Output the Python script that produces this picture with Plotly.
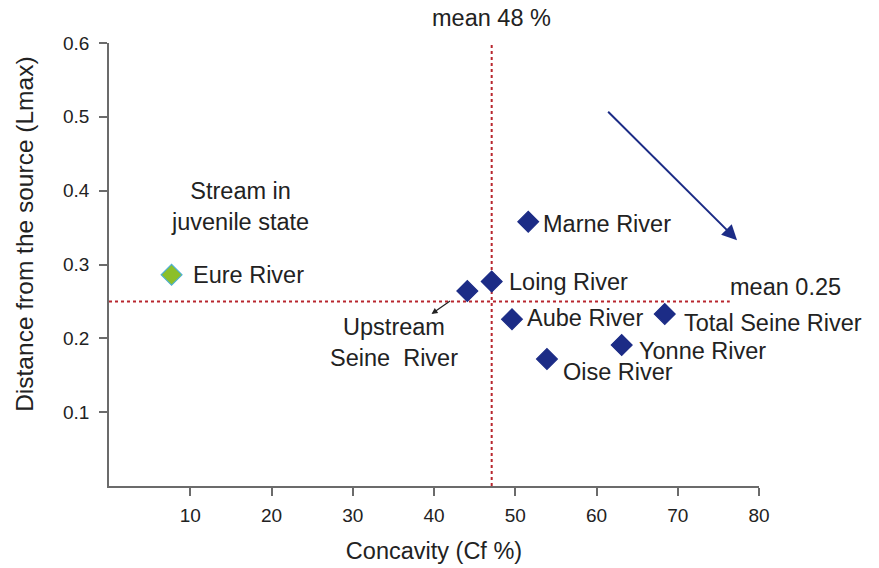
import plotly.graph_objects as go

# Dados (Cf %, Lmax)
rivers = ['Eure River', 'Upstream Seine River', 'Loing River', 'Marne River',
          'Aube River', 'Total Seine River', 'Yonne River', 'Oise River']
concavity = [7.7, 44.1, 47.1, 51.6, 49.6, 68.4, 63.1, 53.9]
lmax = [0.286, 0.264, 0.277, 0.358, 0.226, 0.233, 0.191, 0.172]
mean_cf = 47.1
mean_lmax = 0.25
x_ticks = [10, 20, 30, 40, 50, 60, 70, 80]
y_ticks = [0.1, 0.2, 0.3, 0.4, 0.5, 0.6]

FONT = 'Liberation Sans, Arial, sans-serif'
NAVY = '#1c2c86'
RED = '#b8262e'
TXT = '#222222'
FS = 23.5

fig = go.Figure()

# Linhas de média
fig.add_trace(go.Scatter(x=[mean_cf, mean_cf], y=[0, 0.6], mode='lines',
                         line=dict(color=RED, width=2, dash='dot'),
                         hoverinfo='skip', showlegend=False))
fig.add_trace(go.Scatter(x=[0, 76.4], y=[mean_lmax, mean_lmax], mode='lines',
                         line=dict(color=RED, width=2, dash='dot'),
                         hoverinfo='skip', showlegend=False))

# Pontos
colors = [NAVY] * len(rivers)
colors[0] = '#8cbf2a'
outline = [NAVY] * len(rivers)
outline[0] = '#4fb0d0'
fig.add_trace(go.Scatter(x=concavity, y=lmax, mode='markers',
                         marker=dict(symbol='diamond', size=16, color=colors,
                                     line=dict(color=outline, width=1.2)),
                         text=rivers, showlegend=False))

# Rótulos dos pontos (deslocamento em pixels)
offsets = {
    'Eure River': (19, 0),
    'Loing River': (15, -1),
    'Marne River': (13, -2),
    'Aube River': (13, 1),
    'Total Seine River': (17, -9),
    'Yonne River': (15, -6),
    'Oise River': (14, -13),
}
for name, x, y in zip(rivers, concavity, lmax):
    if name not in offsets:
        continue
    dx, dy = offsets[name]
    fig.add_annotation(x=x, y=y, text=name, showarrow=False, xanchor='left',
                       yanchor='middle', xshift=dx, yshift=dy,
                       font=dict(size=FS, color=TXT, family=FONT))

# Upstream Seine River com seta
fig.add_annotation(x=35.1, y=0.195, text='Upstream<br>Seine  River', showarrow=False,
                   font=dict(size=FS, color=TXT, family=FONT))
fig.add_annotation(x=39.7, y=0.233, ax=20, ay=-14, text='', showarrow=True,
                   arrowhead=2, arrowsize=1, arrowwidth=1.2, arrowcolor=TXT)

# Textos
fig.add_annotation(x=16.1, y=0.378, text='Stream in<br>juvenile state', showarrow=False,
                   font=dict(size=FS, color=TXT, family=FONT))
fig.add_annotation(x=80.8, y=0.477, text='Streams close to<br>their equilibrium state',
                   showarrow=False, font=dict(size=FS, color=TXT, family=FONT))
fig.add_annotation(x=76.2, y=0.27, text='mean 0.25', showarrow=False, xanchor='left',
                   font=dict(size=FS, color=TXT, family=FONT))
fig.add_annotation(x=mean_cf, y=1, yref='paper', yshift=25, text='mean 48 %',
                   showarrow=False, yanchor='middle',
                   font=dict(size=FS, color=TXT, family=FONT))

# Título do eixo y
fig.add_annotation(x=0, xref='paper', y=0.567, yref='paper', xshift=-84,
                   text='Distance from the source (Lmax)', textangle=-90,
                   showarrow=False, xanchor='center', yanchor='middle',
                   font=dict(size=24.5, color=TXT, family=FONT))

# Seta azul
fig.add_annotation(x=77.3, y=0.333, ax=61.25, ay=0.509, axref='x', ayref='y',
                   text='', showarrow=True, arrowhead=2, arrowsize=1.5,
                   arrowwidth=2, arrowcolor=NAVY)

axis_style = dict(showgrid=False, zeroline=False, showline=True, linecolor='#6b6b6b',
                  linewidth=1.5, ticks='outside', ticklen=8, tickwidth=1.5,
                  tickcolor='#6b6b6b', tickfont=dict(size=19, color=TXT, family=FONT))

fig.update_xaxes(range=[0, 80], tickvals=x_ticks, **axis_style, ticklabelstandoff=3,
                 title=dict(text='Concavity (Cf %)', standoff=18,
                            font=dict(size=FS, color=TXT, family=FONT)))
fig.update_yaxes(range=[0, 0.6], tickvals=y_ticks, ticktext=[str(v) for v in y_ticks],
                 **axis_style, ticklabelstandoff=6)

# a página tem margem de 8px, compensamos aqui
fig.update_layout(width=879, height=568, plot_bgcolor='white', paper_bgcolor='white',
                  margin=dict(l=101, r=128, t=35, b=90, autoexpand=False),
                  showlegend=False)

fig.write_html('out.html')
